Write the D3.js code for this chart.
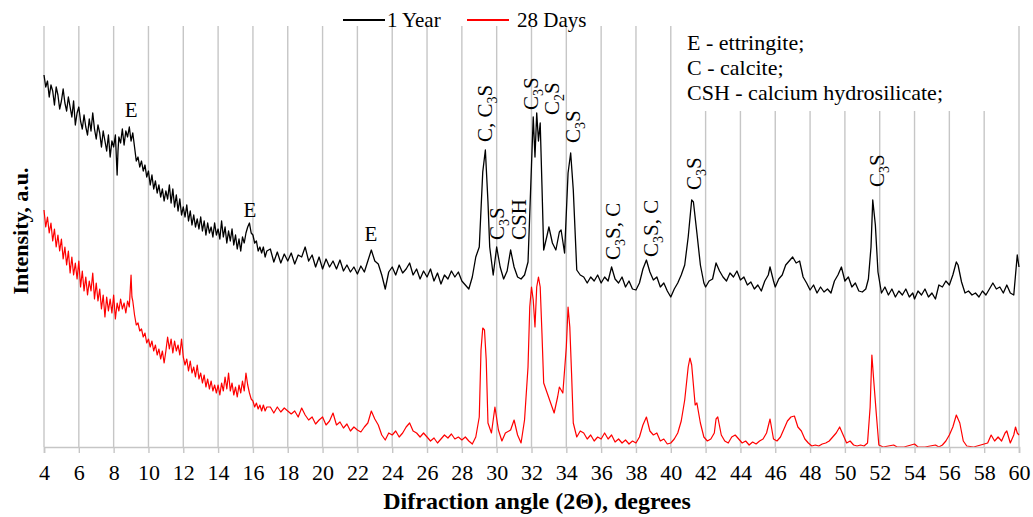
<!DOCTYPE html>
<html>
<head>
<meta charset="utf-8">
<script src="https://cdn.jsdelivr.net/npm/d3@7"></script>
<style>
  html, body { margin: 0; padding: 0; background: #fff; }
  svg { display: block; font-family: "Liberation Serif", "Times New Roman", serif; }
</style>
</head>
<body>
<svg id="chart" width="1033" height="517"></svg>
<script>
// ---------- DATA ----------
const xTicks = [4,6,8,10,12,14,16,18,20,22,24,26,28,30,32,34,36,38,40,42,44,46,48,50,52,54,56,58,60];
const seriesNames = ["1 Year", "28 Days"];
const seriesColors = ["#000000", "#ff0000"];

// 1 Year: [2θ, intensity a.u.]
const oneYear = [
 [4.0,372],[4.1,360],[4.2,366],[4.3,350],[4.4,362],[4.5,356],[4.6,342],[4.7,360],[4.8,352],[4.9,338],
 [5.0,346],[5.1,358],[5.2,344],[5.3,336],[5.4,350],[5.5,340],[5.6,330],[5.7,346],[5.8,322],[5.9,334],
 [6.0,340],[6.1,326],[6.2,318],[6.3,332],[6.4,320],[6.5,312],[6.6,328],[6.7,316],[6.8,334],[6.9,318],
 [7.0,308],[7.1,322],[7.2,314],[7.3,300],[7.4,316],[7.5,306],[7.6,296],[7.7,312],[7.8,290],[7.9,306],
 [8.0,300],[8.1,312],[8.2,272],[8.25,296],[8.3,310],[8.4,304],[8.5,318],[8.6,302],[8.7,316],[8.8,310],
 [8.9,320],[9.0,306],[9.1,314],[9.2,300],[9.3,286],[9.4,290],[9.5,280],[9.6,286],[9.7,276],[9.8,282],
 [9.9,270],[10.0,276],[10.1,262],[10.2,272],[10.3,258],[10.4,266],[10.5,254],[10.6,262],[10.7,250],[10.8,258],
 [10.9,246],[11.0,256],[11.1,248],[11.2,262],[11.3,244],[11.4,258],[11.5,240],[11.6,252],[11.7,236],[11.8,248],
 [11.9,232],[12.0,240],[12.1,230],[12.2,242],[12.3,226],[12.4,236],[12.5,222],[12.6,232],[12.7,220],[12.8,228],
 [12.9,218],[13.0,230],[13.1,216],[13.2,226],[13.3,212],[13.4,224],[13.5,214],[13.6,220],[13.7,210],[13.8,224],
 [13.9,212],[14.0,218],[14.1,208],[14.2,226],[14.3,210],[14.4,220],[14.5,204],[14.6,216],[14.7,206],[14.8,218],
 [14.9,202],[15.0,212],[15.1,198],[15.2,208],[15.3,196],[15.4,210],[15.5,204],[15.6,214],[15.7,220],[15.8,224],
 [15.9,214],[16.0,212],[16.1,204],[16.2,206],[16.3,196],[16.4,200],[16.5,194],[16.6,200],[16.7,190],[16.8,196],
 [17.0,198],[17.2,185],[17.4,195],[17.6,184],
 [17.8,193],[18.0,186],[18.2,194],[18.4,183],[18.6,192],[18.8,190],[19.0,200],[19.2,186],[19.4,192],[19.6,180],
 [19.8,190],[20.0,178],[20.2,188],[20.4,180],[20.6,186],[20.8,178],[21.0,187],[21.2,176],[21.4,182],[21.6,175],
 [21.8,180],[22.0,173],[22.2,181],[22.4,175],[22.6,186],[22.8,197],[23.0,186],[23.2,183],[23.4,172],[23.6,158],
 [23.8,175],[24.0,180],[24.2,172],[24.4,182],[24.6,174],[24.8,178],[25.0,184],[25.2,172],[25.4,178],[25.6,168],
 [25.8,176],[26.0,170],[26.2,178],[26.4,166],[26.6,174],[26.8,163],[27.0,172],[27.2,168],[27.4,176],[27.6,170],
 [27.8,175],[28.0,166],[28.2,162],[28.4,158],[28.6,170],[28.8,190],[29.0,200],[29.2,275],[29.35,297],[29.5,245],
 [29.6,200],[29.8,172],[30.0,200],[30.2,180],[30.4,168],[30.6,176],[30.8,197],[31.0,180],[31.2,170],[31.4,168],
 [31.6,172],[31.8,185],[32.0,282],[32.1,330],[32.2,290],[32.3,334],[32.4,306],[32.5,324],[32.6,262],[32.7,197],
 [32.9,212],[33.0,220],[33.2,204],[33.4,197],[33.6,215],[33.7,217],[33.9,194],[34.1,274],[34.25,294],[34.4,257],
 [34.6,177],[34.8,172],[35.0,170],[35.2,164],[35.4,170],[35.6,166],[35.8,172],[36.0,164],[36.2,170],[36.4,166],
 [36.6,180],[36.8,168],[37.0,164],[37.2,170],[37.4,160],[37.6,166],[37.8,158],[38.0,157],[38.2,164],[38.4,178],
 [38.6,187],[38.8,175],[39.0,167],[39.2,170],[39.4,160],[39.6,164],[39.8,156],[40.0,150],[40.2,158],[40.4,164],
 [40.6,172],[40.8,182],[41.0,210],[41.2,247],[41.3,245],[41.5,214],[41.7,182],[41.9,164],[42.0,160],[42.2,166],
 [42.4,168],[42.6,184],[42.8,176],[43.0,170],[43.2,166],[43.4,174],[43.6,170],[43.8,176],[44.0,167],[44.2,170],
 [44.4,162],[44.6,165],[44.8,158],[45.0,162],[45.2,156],[45.4,166],[45.6,172],[45.7,180],[45.9,166],[46.0,160],
 [46.2,168],[46.4,172],[46.6,182],[46.8,186],[47.0,190],[47.2,184],[47.4,186],[47.6,170],[47.8,164],[48.0,157],
 [48.2,162],[48.4,154],[48.6,160],[48.8,155],[49.0,158],[49.2,154],[49.4,166],[49.6,172],[49.8,180],[50.0,166],
 [50.2,170],[50.4,160],[50.6,164],[50.8,156],[51.0,155],[51.2,158],[51.35,168],[51.5,200],[51.6,247],[51.75,222],
 [51.9,175],[52.1,154],[52.3,160],[52.5,152],[52.7,158],[52.9,150],[53.1,156],[53.3,152],[53.5,158],[53.7,150],
 [53.9,154],[54.0,148],[54.2,156],[54.4,152],[54.6,158],[54.8,150],[55.0,154],[55.2,148],[55.4,162],[55.6,160],
 [55.8,166],[56.0,162],[56.2,172],[56.4,185],[56.5,182],[56.7,165],[56.9,154],[57.1,156],[57.3,152],[57.5,154],
 [57.7,150],[57.9,156],[58.1,152],[58.3,158],[58.5,164],[58.7,158],[58.9,160],[59.1,154],[59.3,162],[59.5,154],
 [59.7,152],[59.8,172],[59.9,192],[60.0,180]
];

// 28 Days: [2θ, intensity a.u.]
const days28 = [
 [4.0,237],[4.1,220],[4.2,230],[4.3,214],[4.4,224],[4.5,206],[4.6,218],[4.7,200],[4.8,212],[4.9,196],
 [5.0,208],[5.1,188],[5.2,200],[5.3,182],[5.4,196],[5.5,174],[5.6,190],[5.7,172],[5.8,184],[5.9,168],
 [6.0,186],[6.1,160],[6.2,176],[6.3,156],[6.4,170],[6.5,152],[6.6,166],[6.7,156],[6.8,174],[6.9,148],
 [7.0,164],[7.1,146],[7.2,158],[7.3,138],[7.4,152],[7.5,130],[7.6,150],[7.7,136],[7.8,148],[7.9,134],
 [8.0,152],[8.1,128],[8.2,144],[8.3,136],[8.4,148],[8.5,138],[8.6,144],[8.7,134],[8.8,146],[8.9,140],
 [9.0,172],[9.05,150],[9.1,146],[9.2,132],[9.3,122],[9.4,124],[9.5,116],[9.6,118],[9.7,110],[9.8,114],
 [9.9,104],[10.0,108],[10.1,100],[10.2,106],[10.3,96],[10.4,102],[10.5,92],[10.6,98],[10.7,88],[10.8,96],
 [10.9,84],[11.0,96],[11.1,110],[11.2,98],[11.3,108],[11.4,94],[11.5,106],[11.6,96],[11.7,102],[11.8,92],
 [11.9,108],[12.0,90],[12.1,82],[12.2,88],[12.3,76],[12.4,86],[12.5,74],[12.6,80],[12.7,70],[12.8,82],
 [12.9,68],[13.0,74],[13.1,64],[13.2,72],[13.3,60],[13.4,68],[13.5,58],[13.6,66],[13.7,56],[13.8,62],
 [13.9,54],[14.0,62],[14.1,52],[14.2,64],[14.3,56],[14.4,70],[14.5,58],[14.6,74],[14.7,56],[14.8,64],
 [14.9,52],[15.0,60],[15.1,50],[15.2,62],[15.3,54],[15.4,66],[15.5,56],[15.6,74],[15.7,62],[15.8,54],
 [15.9,48],[16.0,46],[16.1,40],[16.2,44],[16.3,38],[16.4,42],[16.5,36],[16.6,42],[16.7,36],[16.8,40],
 [17.0,40],[17.2,34],[17.4,40],[17.6,35],[17.8,39],[18.0,36],[18.2,33],[18.4,36],[18.6,30],[18.8,39],[19.0,32],
 [19.2,27],[19.4,30],[19.6,23],[19.8,27],[20.0,30],[20.2,22],[20.4,26],[20.6,34],[20.8,22],[21.0,25],
 [21.2,19],[21.4,23],[21.6,16],[21.8,20],[22.0,17],[22.2,15],[22.4,20],[22.6,24],[22.8,36],[23.0,28],
 [23.2,22],[23.4,12],[23.6,7],[23.8,14],[24.0,12],[24.2,16],[24.4,10],[24.6,14],[24.8,20],[25.0,24],
 [25.2,16],[25.4,14],[25.6,10],[25.8,14],[26.0,10],[26.2,6],[26.4,9],[26.6,4],[26.8,8],[27.0,12],
 [27.2,9],[27.4,13],[27.6,8],[27.8,10],[28.0,7],[28.2,10],[28.4,6],[28.6,3],[28.8,10],[29.0,30],
 [29.1,97],[29.2,119],[29.3,117],[29.4,87],[29.5,24],[29.7,14],[29.9,40],[30.1,17],[30.3,6],[30.5,14],
 [30.8,17],[31.0,27],[31.2,12],[31.4,4],[31.6,27],[31.8,80],[31.9,140],[32.0,160],[32.1,147],[32.2,120],
 [32.3,160],[32.4,170],[32.5,160],[32.6,114],[32.7,64],[32.9,54],[33.1,44],[33.3,34],[33.5,50],[33.6,60],
 [33.8,54],[34.0,100],[34.1,140],[34.2,120],[34.3,74],[34.4,24],[34.6,10],[34.8,16],[35.0,14],[35.2,8],
 [35.4,12],[35.6,6],[35.8,10],[36.0,8],[36.2,14],[36.4,8],[36.6,12],[36.8,5],[37.0,8],[37.2,4],
 [37.4,7],[37.6,3],[37.8,6],[38.0,4],[38.2,10],[38.4,22],[38.6,30],[38.8,16],[39.0,12],[39.2,14],
 [39.4,6],[39.6,8],[39.8,3],[40.0,4],[40.2,8],[40.4,14],[40.6,26],[40.8,47],[41.0,80],[41.1,89],
 [41.2,82],[41.4,42],[41.5,44],[41.7,24],[41.9,10],[42.1,6],[42.3,8],[42.5,14],[42.6,28],[42.7,30],
 [42.9,12],[43.1,6],[43.3,4],[43.5,10],[43.7,12],[43.9,8],[44.1,4],[44.3,6],[44.5,2],[44.7,5],
 [44.9,3],[45.1,6],[45.3,8],[45.5,14],[45.7,28],[45.9,8],[46.1,6],[46.3,10],[46.5,18],[46.7,26],
 [46.9,30],[47.1,31],[47.3,20],[47.5,16],[47.7,8],[47.9,4],[48.1,1],[48.3,2],[48.5,1],[48.7,3],
 [48.9,4],[49.1,6],[49.3,10],[49.5,14],[49.7,20],[49.9,12],[50.1,4],[50.3,6],[50.5,2],[50.7,1],
 [50.9,2],[51.1,1],[51.3,4],[51.45,40],[51.55,92],[51.65,68],[51.8,34],[51.95,2],[52.2,0],[52.8,2],
 [53.0,0],[53.4,0],[54.0,3],[54.2,0],[54.6,0],[55.2,2],[55.4,0],[55.6,2],[55.8,6],[56.0,12],
 [56.2,20],[56.4,32],[56.6,24],[56.8,6],[57.0,1],[57.4,0],[57.8,2],[58.2,4],[58.4,12],[58.6,6],
 [58.8,10],[59.0,6],[59.2,14],[59.3,16],[59.5,4],[59.7,12],[59.8,20],[59.9,14],[60.0,12]
];

// Peak annotations: [label parts, 2θ, intensity level, rotated]
// label parts: array of [text, isSubscript]
const peakLabels = [
 [[["E",0]], 9.0, 337, false],
 [[["E",0]], 15.83, 237, false],
 [[["E",0]], 22.78, 213, false],
 [[["C, C",0],["3",1],["S",0]], 29.33, 305, true],
 [[["C",0],["3",1],["S",0]], 30.02, 207, true],
 [[["CSH",0]], 31.28, 207, true],
 [[["C",0],["3",1],["S",0]], 31.97, 337, true],
 [[["C",0],["2",1],["S",0]], 33.18, 332, true],
 [[["C",0],["3",1],["S",0]], 34.38, 304, true],
 [[["C",0],["3",1],["S, C",0]], 36.68, 187, true],
 [[["C",0],["3",1],["S, C",0]], 38.86, 190, true],
 [[["C",0],["3",1],["S",0]], 41.3, 257, true],
 [[["C",0],["3",1],["S",0]], 51.85, 260, true]
];

const keyLines = ["E - ettringite;", "C - calcite;", "CSH - calcium hydrosilicate;"];
const xTitle = "Difraction angle (2\u0398), degrees";
const yTitle = "Intensity, a.u.";

// ---------- CHART ----------
const svg = d3.select("#chart");
const plotLeft = 44, plotRight = 1019, plotTop = 26, plotBottom = 447;
const x = d3.scaleLinear().domain([4, 60]).range([plotLeft, plotRight]);
const y = d3.scaleLinear().domain([0, 421]).range([plotBottom, plotTop]);
const gridColor = "#c6c6c6";

// gridlines
const grid = svg.append("g");
grid.selectAll("line").data(xTicks).join("line")
  .attr("x1", d => x(d)).attr("x2", d => x(d))
  .attr("y1", plotTop).attr("y2", plotBottom)
  .attr("stroke", gridColor).attr("stroke-width", 1.4);

// key box (white, covers gridlines)
svg.append("rect").attr("x", x(40) + 6).attr("y", plotTop - 1)
  .attr("width", x(60) - x(40) - 10).attr("height", 86).attr("fill", "#fff");
svg.append("g").selectAll("text").data(keyLines).join("text")
  .attr("x", 687).attr("y", (d, i) => 50 + i * 25)
  .attr("font-size", 22).attr("fill", "#000").text(d => d);

// series
const line = d3.line().x(d => x(d[0])).y(d => y(d[1]));
svg.append("path").datum(days28).attr("d", line)
  .attr("fill", "none").attr("stroke", seriesColors[1]).attr("stroke-width", 1.2)
  .attr("stroke-linejoin", "round");
svg.append("path").datum(oneYear).attr("d", line)
  .attr("fill", "none").attr("stroke", seriesColors[0]).attr("stroke-width", 1.3)
  .attr("stroke-linejoin", "round");

// x axis
const xAxis = d3.axisBottom(x).tickValues(xTicks).tickSize(6).tickPadding(11).tickFormat(d3.format("d"));
const ax = svg.append("g").attr("transform", `translate(0,${plotBottom})`).call(xAxis);
ax.select(".domain").attr("stroke", gridColor).attr("stroke-width", 1.6);
ax.selectAll(".tick line").attr("stroke", gridColor).attr("stroke-width", 1.4);
ax.selectAll(".tick text").attr("font-size", 22).attr("font-family", "Liberation Serif, Times New Roman, serif")
  .attr("fill", "#000").attr("dy", "0.71em");

// axis titles
svg.append("text").attr("x", 537).attr("y", 509).attr("text-anchor", "middle")
  .attr("font-size", 24).attr("font-weight", "bold").text(xTitle);
svg.append("text").attr("transform", "translate(28,231) rotate(-90)").attr("text-anchor", "middle")
  .attr("font-size", 22).attr("font-weight", "bold").text(yTitle);

// legend
const legend = svg.append("g");
const legendX = [343, 467];
seriesNames.forEach((name, i) => {
  legend.append("line").attr("x1", legendX[i]).attr("x2", legendX[i] + 42)
    .attr("y1", 20).attr("y2", 20).attr("stroke", seriesColors[i]).attr("stroke-width", 1.8);
  legend.append("text").attr("x", legendX[i] + 44 + (i ? 6 : 0)).attr("y", 27)
    .attr("font-size", 21).text(name);
});

// peak labels
const lab = svg.append("g");
peakLabels.forEach(([parts, ang, lvl, rot]) => {
  const t = lab.append("text").attr("font-size", 21).attr("fill", "#000");
  if (rot) {
    t.attr("transform", `translate(${x(ang)},${y(lvl)}) rotate(-90)`)
     .attr("text-anchor", "start").attr("dy", "0.35em");
  } else {
    t.attr("x", x(ang)).attr("y", y(lvl)).attr("text-anchor", "middle").attr("dy", "0.35em");
  }
  let shifted = false;
  parts.forEach(([s, sub]) => {
    const ts = t.append("tspan").text(s);
    if (sub) { ts.attr("font-size", 14).attr("dy", 5); shifted = true; }
    else if (shifted) { ts.attr("dy", -5); shifted = false; }
  });
});
</script>
</body>
</html>
